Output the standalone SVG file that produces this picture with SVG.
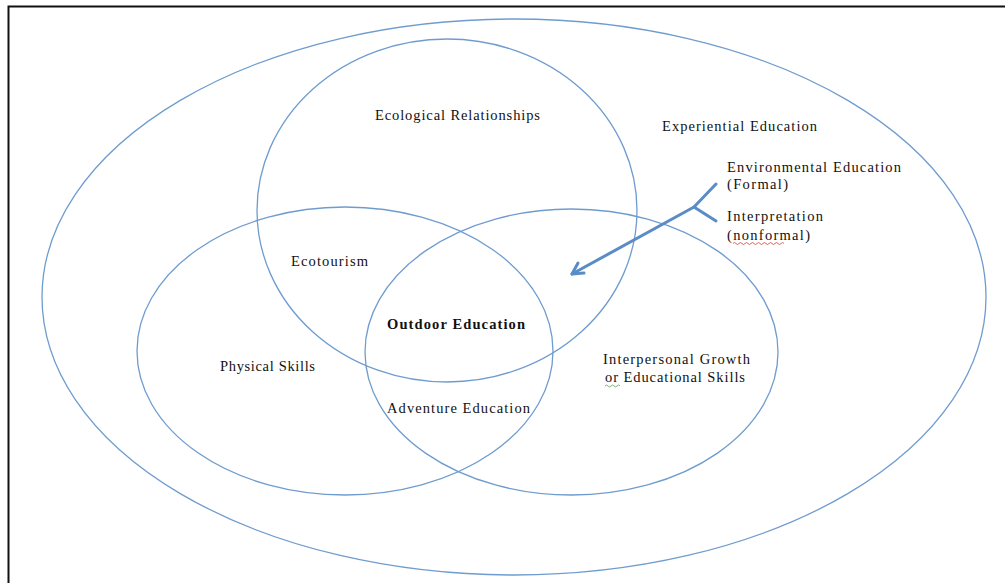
<svg xmlns="http://www.w3.org/2000/svg" width="1005" height="583" viewBox="0 0 1005 583">
  <style>
    .set { fill: none; stroke: #6f9ccf; stroke-width: 1.3; }
    .lbl { font-family: "Liberation Serif", "DejaVu Serif", serif; font-size: 14.5px; fill: #111; }
    .b { font-weight: bold; }
    .conn { fill: none; stroke: #5a8cc6; stroke-width: 3; stroke-linecap: round; stroke-linejoin: round; }
  </style>
  <rect x="0" y="0" width="1005" height="583" fill="#ffffff"/>
  <path d="M8.5 583 V6.5 H1005" fill="none" stroke="#111" stroke-width="2"/>

  <g id="experiential">
    <ellipse class="set" cx="514" cy="297" rx="472" ry="278"/>
    <text class="lbl" x="662" y="131" textLength="155">Experiential Education</text>
  </g>
  <g id="ecological">
    <ellipse class="set" cx="447" cy="210.5" rx="190" ry="171.5"/>
    <text class="lbl" x="375" y="120" textLength="165">Ecological Relationships</text>
  </g>
  <g id="physical">
    <ellipse class="set" cx="345" cy="351" rx="208" ry="144"/>
    <text class="lbl" x="220" y="371" textLength="95">Physical Skills</text>
  </g>
  <g id="interpersonal">
    <ellipse class="set" cx="571.5" cy="352" rx="206.5" ry="143"/>
    <text class="lbl" x="603" y="364" textLength="147">Interpersonal Growth</text>
    <text class="lbl" x="605" y="382" textLength="140">or Educational Skills</text>
    <path d="M605 386 q1.5 -2 3 0 t3 0 t3 0 t3 0 t3 0" fill="none" stroke="#5aa05a" stroke-width="0.8"/>
  </g>
  <g id="ecotourism">
    <text class="lbl" x="291" y="266" textLength="77">Ecotourism</text>
  </g>
  <g id="outdoor">
    <text class="lbl b" x="387" y="329" textLength="138">Outdoor Education</text>
  </g>
  <g id="adventure">
    <text class="lbl" x="387" y="413" textLength="143">Adventure Education</text>
  </g>
  <g id="environmental">
    <text class="lbl" x="727" y="172" textLength="174">Environmental Education</text>
    <text class="lbl" x="727" y="189" textLength="61">(Formal)</text>
  </g>
  <g id="interpretation">
    <text class="lbl" x="727" y="221" textLength="96">Interpretation</text>
    <text class="lbl" x="727" y="240" textLength="83">(nonformal)</text>
    <path d="M733 243.5 q1.5 -2 3 0 t3 0 t3 0 t3 0 t3 0 t3 0 t3 0 t3 0 t3 0 t3 0 t3 0 t3 0 t3 0 t3 0 t3 0 t3 0 t3 0" fill="none" stroke="#d04040" stroke-width="0.8"/>
  </g>

  <g id="connectors">
    <path class="conn" d="M716 184 L694 207 L716 221"/>
    <path class="conn" d="M694 207 L572 274"/>
    <path class="conn" d="M578 263 L572 274 L584 273"/>
  </g>
</svg>
